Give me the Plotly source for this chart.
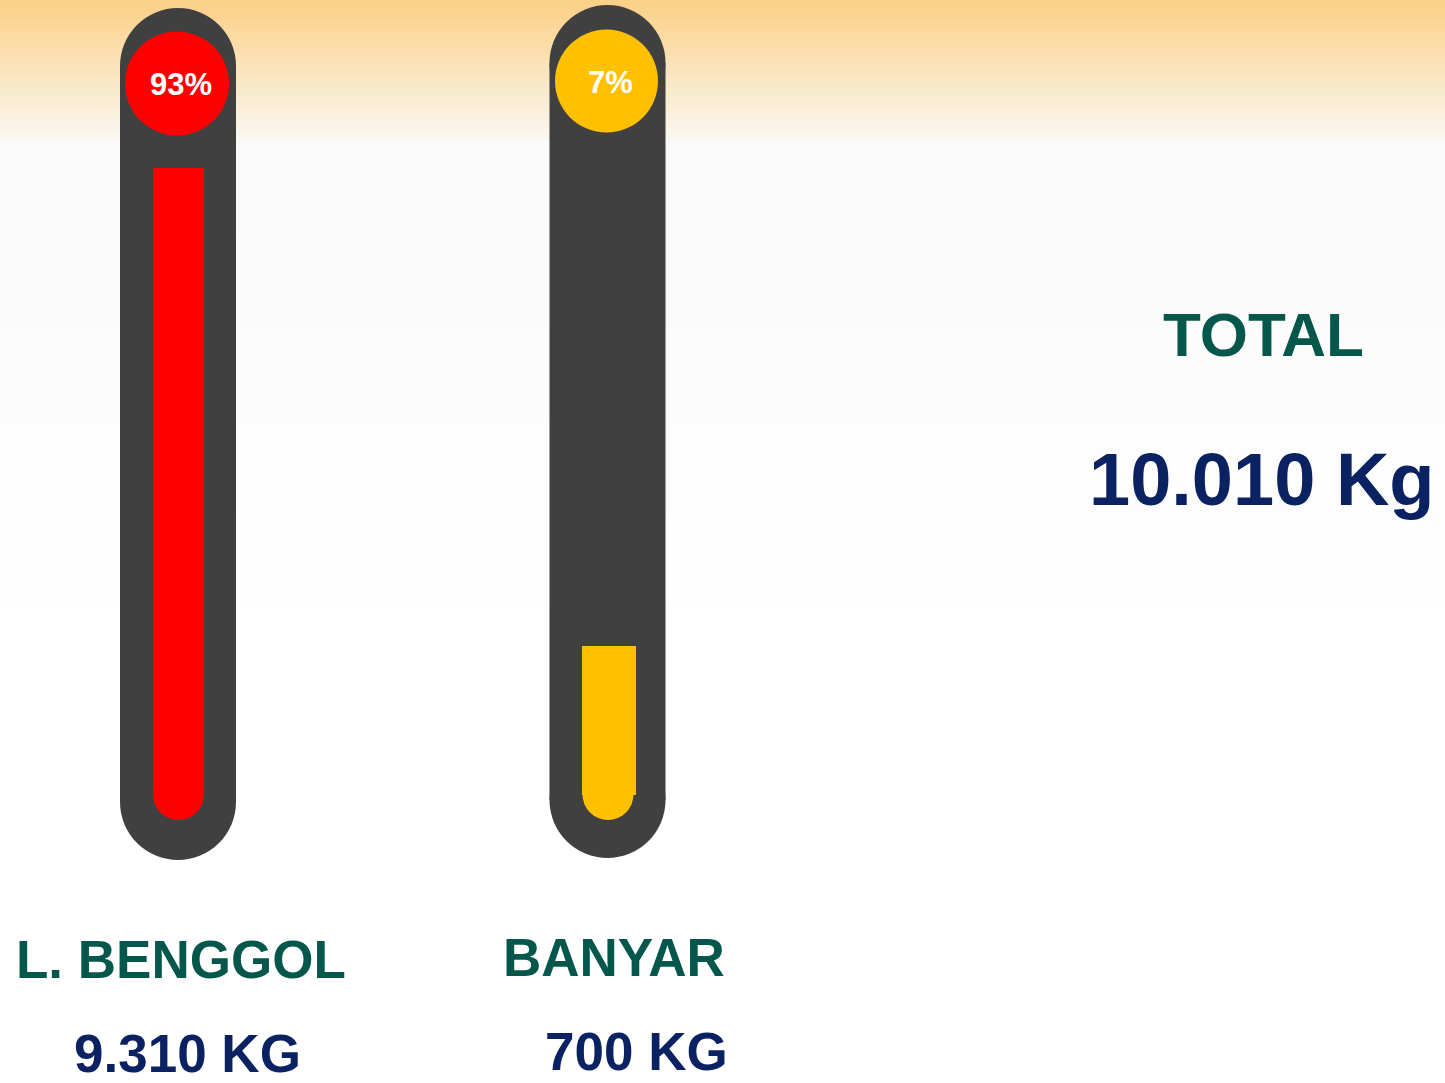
import plotly.graph_objects as go

# ---- data ----
regions = ["L. BENGGOL", "BANYAR"]
weights_kg = [9310, 700]
weight_labels = ["9.310 KG", "700 KG"]
pct_labels = ["93%", "7%"]
fill_level = [93, 22.0]          # gauge fill level as drawn (percent of tube scale)
total_label = "TOTAL"
total_value = "10.010 Kg"

# ---- styles / layout constants ----
W, H = 1445, 1083
tube_color = "#404040"
fill_colors = ["#FF0000", "#FFC000"]
green = "#04574A"
navy = "#0A2162"
font = "Liberation Sans, Arial, sans-serif"

tube_cx = [178, 607.5]
tube_top = [8, 5]
tube_bot = [860, 858]
tube_w = 116
fill_cx = [178.5, 609]
fill_w = [51, 54]
cap_cx = [178.5, 608]
cap_r = 25.5
badge_c = [(177, 83.5), (606.5, 81)]
badge_r = [52, 51.5]

fig = go.Figure()

shapes = []
# background gradient
def lerp(a, b, t):
    return tuple(int(round(a[i] + (b[i] - a[i]) * t)) for i in range(3))

top_c, mid_c, low_c, end_c = (251, 208, 136), (250, 247, 240), (250, 250, 250), (255, 255, 255)
n1 = 28
for i in range(n1):
    y0 = 140 * i / n1
    y1 = 140 * (i + 1) / n1 + 0.6
    c = lerp(top_c, mid_c, i / (n1 - 1))
    shapes.append(dict(type="rect", xref="x", yref="y", x0=0, x1=W, y0=y0, y1=y1,
                       fillcolor="rgb(%d,%d,%d)" % c, line=dict(width=0), layer="below"))
n2 = 12
for i in range(n2):
    y0 = 140 + 560 * i / n2
    y1 = 140 + 560 * (i + 1) / n2 + 0.6
    c = lerp(low_c, end_c, i / (n2 - 1))
    shapes.append(dict(type="rect", xref="x", yref="y", x0=0, x1=W, y0=y0, y1=y1,
                       fillcolor="rgb(%d,%d,%d)" % c, line=dict(width=0), layer="below"))

# tubes
r = tube_w / 2
for cx, t, b in zip(tube_cx, tube_top, tube_bot):
    shapes.append(dict(type="rect", xref="x", yref="y", x0=cx - r, x1=cx + r, y0=t + r, y1=b - r,
                       fillcolor=tube_color, line=dict(width=0), layer="below"))
    for cy in (t + r, b - r):
        shapes.append(dict(type="circle", xref="x", yref="y", x0=cx - r, x1=cx + r, y0=cy - r, y1=cy + r,
                           fillcolor=tube_color, line=dict(width=0), layer="below"))

# rounded bulb under each fill, anchored at gauge value 0
for cx, col in zip(cap_cx, fill_colors):
    shapes.append(dict(type="circle", xref="x", yref="y2", xsizemode="pixel", ysizemode="pixel",
                       xanchor=cx, yanchor=0, x0=-cap_r, x1=cap_r, y0=-cap_r, y1=cap_r,
                       fillcolor=col, line=dict(width=0), layer="above"))

# percent badges
for (cx, cy), rr, col in zip(badge_c, badge_r, fill_colors):
    shapes.append(dict(type="circle", xref="x", yref="y", x0=cx - rr, x1=cx + rr, y0=cy - rr, y1=cy + rr,
                       fillcolor=col, line=dict(width=0), layer="above"))

# fill bars
for i in range(len(regions)):
    fig.add_trace(go.Bar(
        x=[fill_cx[i]], y=[fill_level[i]], base=[0],
        width=[fill_w[i]], yaxis="y2", xaxis="x",
        marker=dict(color=fill_colors[i], line=dict(width=0)),
        name=regions[i], showlegend=False,
        hovertext=["%s: %s (%s)" % (regions[i], weight_labels[i], pct_labels[i])], hoverinfo="text",
    ))

ann = []
for (cx, cy), p in zip(badge_c, pct_labels):
    ann.append(dict(x=cx + 4, y=cy + 1, xref="x", yref="y", text="<b>%s</b>" % p, showarrow=False,
                    font=dict(family=font, size=31, color="white"), xanchor="center", yanchor="middle"))

name_pos = [(181, 959), (614, 957)]
val_pos = [(187, 1053), (636, 1051)]
for i in range(len(regions)):
    ann.append(dict(x=name_pos[i][0], y=name_pos[i][1], xref="x", yref="y", text="<b>%s</b>" % regions[i],
                    showarrow=False, font=dict(family=font, size=53, color=green),
                    xanchor="center", yanchor="middle"))
    ann.append(dict(x=val_pos[i][0], y=val_pos[i][1], xref="x", yref="y", text="<b>%s</b>" % weight_labels[i],
                    showarrow=False, font=dict(family=font, size=53, color=navy),
                    xanchor="center", yanchor="middle"))

ann.append(dict(x=1263, y=334, xref="x", yref="y", text="<b>%s</b>" % total_label, showarrow=False,
                font=dict(family=font, size=62, color=green), xanchor="center", yanchor="middle"))
ann.append(dict(x=1262, y=479, xref="x", yref="y", text="<b>%s</b>" % total_value, showarrow=False,
                font=dict(family=font, size=74, color=navy), xanchor="center", yanchor="middle"))

fig.update_layout(
    width=W, height=H,
    margin=dict(l=0, r=0, t=0, b=0),
    paper_bgcolor="white", plot_bgcolor="white",
    xaxis=dict(range=[0, W], visible=False, fixedrange=True),
    yaxis=dict(range=[H, 0], visible=False, fixedrange=True),
    yaxis2=dict(range=[-42.82, 117.93], overlaying="y", visible=False, fixedrange=True),
    shapes=shapes, annotations=ann,
    bargap=0, barmode="overlay",
)

fig.write_html("out.html", config={"displayModeBar": False},
               post_script="document.body.style.margin='0';document.body.style.overflow='hidden';")
